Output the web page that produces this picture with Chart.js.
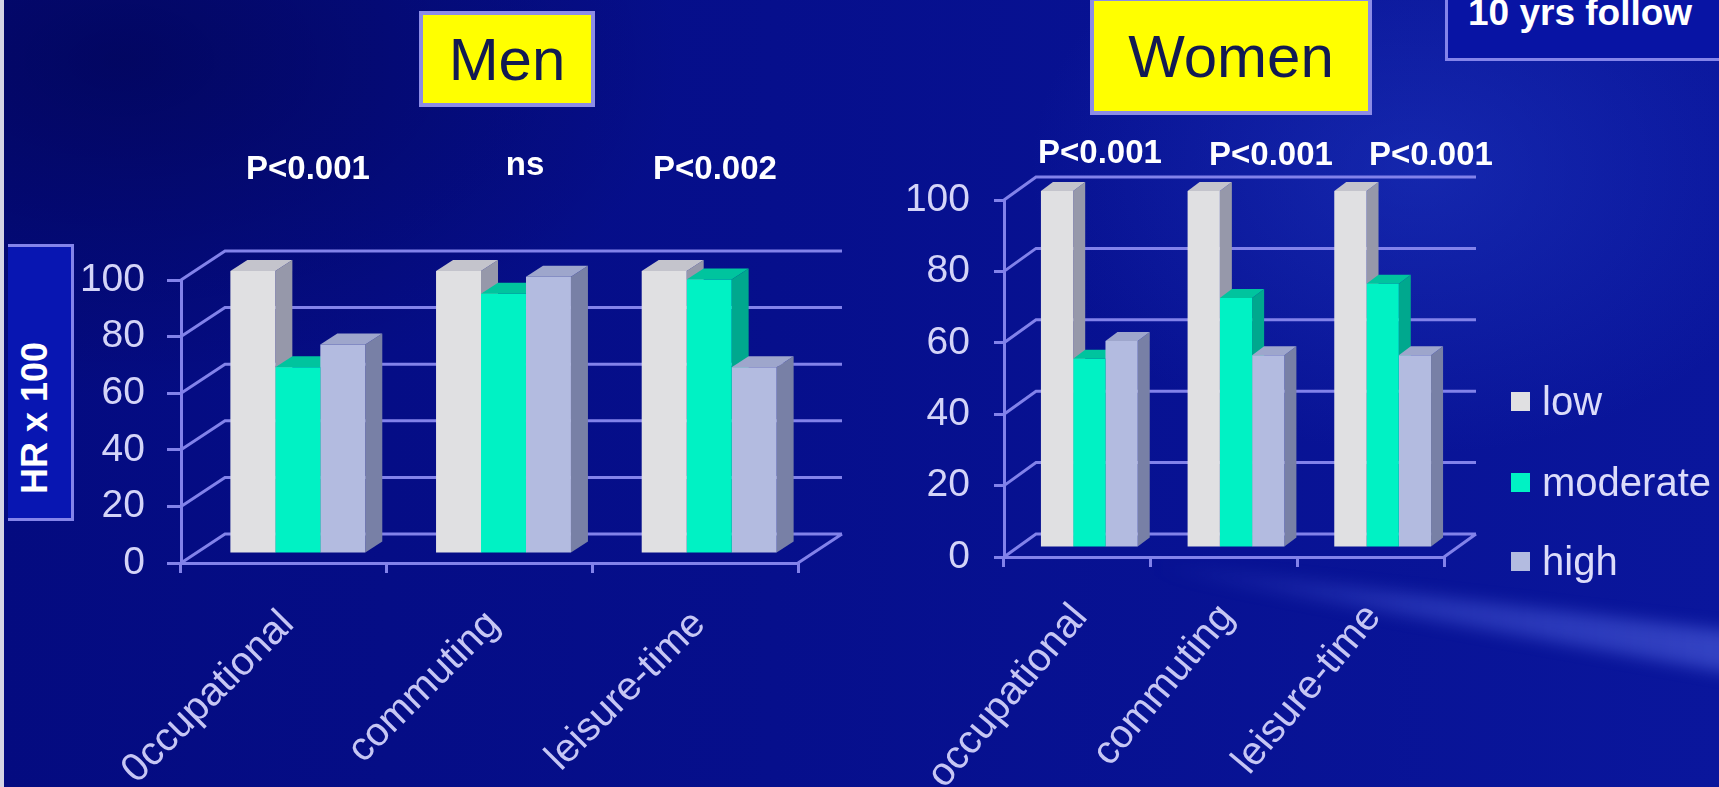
<!DOCTYPE html>
<html>
<head>
<meta charset="utf-8">
<script src="https://cdn.jsdelivr.net/npm/chart.js@4.4.1/dist/chart.umd.min.js"></script>
<style>
  html, body { margin: 0; padding: 0; width: 1719px; height: 787px; overflow: hidden; }
  body { position: relative; background: #06108c; font-family: "Liberation Sans", Arial, sans-serif; }
  #bg { position: absolute; inset: 0;
    background:
      radial-gradient(ellipse 520px 380px at 1420px 170px, rgba(40,70,210,0.38), rgba(40,70,210,0) 75%),
      radial-gradient(ellipse 700px 420px at 120px 60px, rgba(0,0,60,0.45), rgba(0,0,60,0) 80%),
      linear-gradient(90deg, #040b80 0%, #060f8c 45%, #0a169c 100%); }
  #streakWrap { position: absolute; left: 0; top: 0; width: 1719px; height: 787px; filter: blur(8px); }
  #streak { position: absolute; left: 1150px; top: 540px; width: 590px; height: 160px;
    clip-path: polygon(0 22px, 100% 92px, 100% 135px, 0 30px);
    background: linear-gradient(90deg, rgba(90,110,240,0) 0%, rgba(100,120,245,0.3) 45%, rgba(110,130,250,0.42) 100%); }
  #edge { position: absolute; left: 0; top: 0; width: 4px; height: 787px; background: #d4d4e4; }
  canvas { position: absolute; left: 0; top: 0; }
  .box { position: absolute; box-sizing: border-box; }
  .title { background: #ffff00; border: 4px solid #8c8ce6; color: #121a52; font-size: 60px;
    display: flex; align-items: center; justify-content: center; }
  #hrBox { left: 8px; top: 244px; width: 66px; height: 277px; background: #0816b2;
    border: 3px solid #8484ea; border-left: none; }
  #hrText { position: absolute; left: 35px; top: 418px; transform: translate(-50%, -50%) rotate(-90deg);
    color: #ffffff; font-weight: bold; font-size: 36px; white-space: nowrap; }
  #followBox { left: 1445px; top: -10px; width: 300px; height: 71px; border: 3px solid #8484ea; background: #0814a4; }
  #followText { position: absolute; left: 1468px; top: -7px; color: #ffffff; font-weight: bold; font-size: 37px;
    line-height: 40px; white-space: nowrap; }
  .pval { position: absolute; color: #ffffff; font-weight: bold; font-size: 33px; white-space: nowrap;
    transform: translate(-50%, -50%); }
  .leg { position: absolute; left: 1511px; display: flex; align-items: center; color: #dcdcfa; font-size: 40px; }
  .leg span.sw { display: inline-block; width: 19px; height: 19px; margin-right: 12px; }
</style>
</head>
<body>
<div id="bg"></div>
<div id="streakWrap"><div id="streak"></div></div>
<div id="edge"></div>
<canvas id="men" width="1719" height="787"></canvas>
<canvas id="women" width="1719" height="787"></canvas>
<div class="box title" style="left:419px; top:11px; width:176px; height:96px;">Men</div>
<div class="box title" style="left:1090px; top:-3px; width:282px; height:118px;">Women</div>
<div class="box" id="hrBox"></div>
<div id="hrText">HR x 100</div>
<div class="box" id="followBox"></div>
<div id="followText">10 yrs follow</div>
<div id="pvals"></div>
<div id="legend"></div>
<script>
// Activity domains and intensity groups
const categoriesMen = ['0ccupational', 'commuting', 'leisure-time'];
const categoriesWomen = ['occupational', 'commuting', 'leisure-time'];
const seriesNames = ['low', 'moderate', 'high'];

// Hazard ratio x 100 per domain
const menLow = [100, 100, 100];
const menModerate = [66, 92, 97];
const menHigh = [74, 98, 66];
const womenLow = [100, 100, 100];
const womenModerate = [53, 70, 74];
const womenHigh = [58, 54, 54];

const yTicks = [0, 20, 40, 60, 80, 100];
const pValuesMen = ['P<0.001', 'ns', 'P<0.002'];
const pValuesWomen = ['P<0.001', 'P<0.001', 'P<0.001'];

// Face colours of the 3-D columns: front, side, top
const palette = [
  { front: '#e0e0e2', side: '#9698aa', top: '#c4c4cc' },
  { front: '#00f2c4', side: '#00a88e', top: '#00c49e' },
  { front: '#b3bbe0', side: '#7880a6', top: '#9ea6cc' }
];
const lineColor = '#8282ea';

Chart.defaults.font.family = '"Liberation Sans", Arial, sans-serif';

// Back wall, floor and the depth faces of every column
const depthPlugin = {
  id: 'depth3d',
  beforeDatasetsDraw(chart, args, opts) {
    const { ctx, chartArea: a, scales: { x, y } } = chart;
    const [wdx, wdy] = opts.wall;
    ctx.save();
    ctx.strokeStyle = lineColor;
    ctx.lineWidth = opts.lineWidth;
    ctx.beginPath();
    y.ticks.forEach(t => {
      const py = y.getPixelForValue(t.value);
      ctx.moveTo(a.left, py);
      ctx.lineTo(a.left + wdx, py + wdy);
      ctx.lineTo(a.right + wdx, py + wdy);
    });
    const p0 = y.getPixelForValue(0);
    ctx.moveTo(a.right, p0);
    ctx.lineTo(a.right + wdx, p0 + wdy);
    ctx.stroke();
    ctx.restore();

    // columns stand a little behind the front edge of the floor
    ctx.save();
    ctx.translate(opts.shift[0], opts.shift[1]);
    const [bdx, bdy] = opts.bar;
    const metas = chart.getSortedVisibleDatasetMetas().slice().sort((m1, m2) => m1.index - m2.index);
    const n = chart.data.labels.length;
    for (let i = 0; i < n; i++) {
      metas.forEach(meta => {
        const el = meta.data[i];
        const col = palette[meta.index];
        const { x: bx, y: by, base, width } = el.getProps(['x', 'y', 'base', 'width'], true);
        const l = bx - width / 2, r = bx + width / 2;
        ctx.fillStyle = col.side;
        ctx.beginPath();
        ctx.moveTo(r, by); ctx.lineTo(r + bdx, by + bdy);
        ctx.lineTo(r + bdx, base + bdy); ctx.lineTo(r, base);
        ctx.closePath(); ctx.fill();
        ctx.fillStyle = col.top;
        ctx.beginPath();
        ctx.moveTo(l, by); ctx.lineTo(l + bdx, by + bdy);
        ctx.lineTo(r + bdx, by + bdy); ctx.lineTo(r, by);
        ctx.closePath(); ctx.fill();
      });
    }
  },
  afterDatasetsDraw(chart) {
    chart.ctx.restore();
  }
};

const Y_AXIS_W = 120;

function makeChart(id, labels, series, g) {
  const datasets = series.map((vals, k) => ({
    label: seriesNames[k],
    data: vals,
    backgroundColor: palette[k].front,
    borderWidth: 0,
    categoryPercentage: g.catPct,
    barPercentage: 1,
    clip: false
  }));
  const xAxisH = 787 - g.bottom;
  return new Chart(document.getElementById(id), {
    type: 'bar',
    data: { labels, datasets },
    plugins: [depthPlugin],
    options: {
      responsive: false,
      animation: false,
      events: [],
      layout: { padding: { left: g.left - Y_AXIS_W, top: g.top, right: 1719 - g.right, bottom: 0 } },
      plugins: {
        legend: { display: false },
        tooltip: { enabled: false },
        depth3d: { wall: g.wall, shift: g.shift, bar: g.bar, lineWidth: 3 }
      },
      scales: {
        x: {
          afterFit(s) { s.height = xAxisH; },
          grid: { drawOnChartArea: false, drawTicks: true, tickLength: 10, color: lineColor, lineWidth: 3 },
          border: { display: true, color: lineColor, width: 3 },
          ticks: {
            autoSkip: false, minRotation: g.rot, maxRotation: g.rot, padding: g.labelPad,
            labelOffset: g.labelOffset,
            color: '#c6c6f4', font: { size: 40 }
          }
        },
        y: {
          min: 0, max: 100,
          afterFit(s) { s.width = Y_AXIS_W; },
          afterBuildTicks(s) { s.ticks = yTicks.map(v => ({ value: v })); },
          grid: { drawOnChartArea: false, drawTicks: true, tickLength: g.tickLen, color: lineColor, lineWidth: 3 },
          border: { display: true, color: lineColor, width: 3 },
          ticks: { padding: g.tickPad, color: '#d4d4f8', font: { size: 39 } }
        }
      }
    }
  });
}

makeChart('men', categoriesMen, [menLow, menModerate, menHigh], {
  left: 181, right: 798, top: 280, bottom: 563,
  wall: [44, -29], shift: [14, -9], bar: [17, -11], catPct: 0.656,
  rot: 45, labelPad: 28, labelOffset: 4, tickLen: 14, tickPad: 22
});
makeChart('women', categoriesWomen, [womenLow, womenModerate, womenHigh], {
  left: 1004, right: 1444, top: 200, bottom: 557,
  wall: [32, -23], shift: [12, -9], bar: [12, -9], catPct: 0.66,
  rot: 50, labelPad: 28, labelOffset: 3, tickLen: 10, tickPad: 24
});

// Significance labels above each domain
const pvalPos = {
  men: [[308, 168], [525, 164], [715, 168]],
  women: [[1100, 152], [1271, 154], [1431, 154]]
};
const pv = document.getElementById('pvals');
[[pValuesMen, pvalPos.men], [pValuesWomen, pvalPos.women]].forEach(([texts, pos]) => {
  texts.forEach((t, i) => {
    const d = document.createElement('div');
    d.className = 'pval';
    d.textContent = t;
    d.style.left = pos[i][0] + 'px';
    d.style.top = pos[i][1] + 'px';
    pv.appendChild(d);
  });
});

// Legend for the intensity groups
const lg = document.getElementById('legend');
const legendY = [401, 482, 561];
seriesNames.forEach((name, k) => {
  const row = document.createElement('div');
  row.className = 'leg';
  row.style.top = (legendY[k] - 24) + 'px';
  row.style.height = '48px';
  const sw = document.createElement('span');
  sw.className = 'sw';
  sw.style.background = palette[k].front;
  row.appendChild(sw);
  row.appendChild(document.createTextNode(name));
  lg.appendChild(row);
});
</script>
</body>
</html>
